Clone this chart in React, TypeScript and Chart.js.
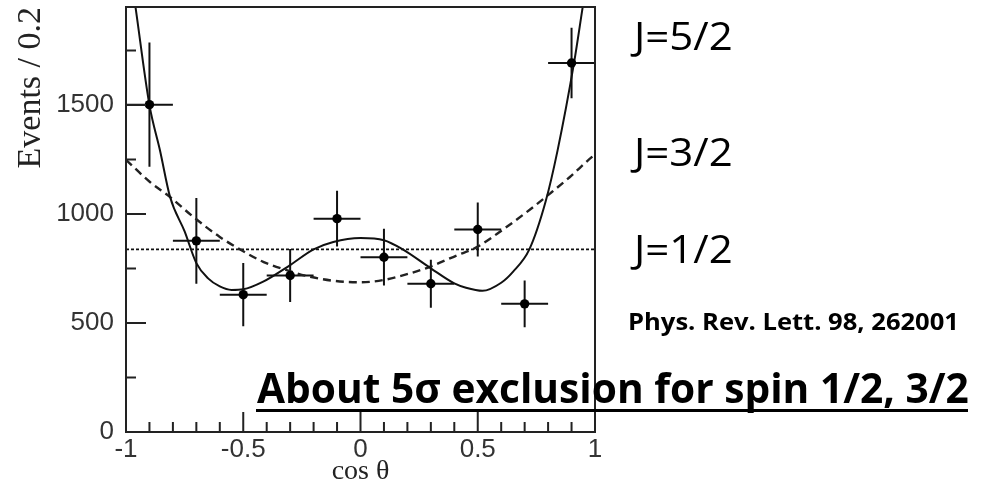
import React, { useEffect, useMemo, useRef } from 'react';
import { Chart, registerables } from 'chart.js';

Chart.register(...registerables);

// ---- data ----
const binCenters = [-0.9, -0.7, -0.5, -0.3, -0.1, 0.1, 0.3, 0.5, 0.7, 0.9];
const events = [1502, 877, 630, 718, 979, 802, 680, 929, 588, 1693];
const eventErrors = [285, 197, 145, 122, 128, 130, 110, 124, 107, 162];
const binHalfWidth = 0.1;

// J=5/2 fit (solid)
const spin52X = [-0.959, -0.9, -0.855, -0.812, -0.75, -0.7, -0.65, -0.6, -0.55, -0.5, -0.415, -0.3, -0.2, -0.116, 0, 0.1, 0.18, 0.3, 0.4, 0.45, 0.52, 0.6, 0.65, 0.72, 0.79, 0.84, 0.91, 0.947];
const spin52Y = [1946, 1500, 1292, 1078, 920, 775, 705, 668, 652, 655, 690, 766, 838, 872, 890, 880, 838, 751, 682, 662, 648, 685, 735, 838, 1060, 1290, 1690, 1946];

// J=3/2 fit (dashed)
const spin32X = [-1, -0.898, -0.812, -0.713, -0.6, -0.514, -0.415, -0.315, -0.23, -0.116, 0, 0.097, 0.211, 0.296, 0.41, 0.496, 0.609, 0.723, 0.808, 0.893, 0.986, 1];
const spin32Y = [1249, 1147, 1078, 987, 895, 838, 781, 743, 716, 694, 687, 697, 728, 758, 810, 848, 930, 1021, 1094, 1170, 1261, 1272];

// J=1/2 fit (dotted, flat)
const spin12X = [-1, 1];
const spin12Y = [838, 838];

// ticks (major ones carry labels)
const xTickValues = [-1, -0.9, -0.8, -0.7, -0.6, -0.5, -0.4, -0.3, -0.2, -0.1, 0, 0.1, 0.2, 0.3, 0.4, 0.5, 0.6, 0.7, 0.8, 0.9, 1];
const xTickLabels = ['-1', '-0.5', '0', '0.5', '1'];
const yTickValues = [0, 250, 500, 750, 1000, 1250, 1500, 1750];
const yTickLabels = ['0', '500', '1000', '1500'];

const xMin = -1;
const xMax = 1;
const yMin = 0;
const yMax = 1950;

const xTitle = 'cos θ';
const yTitle = 'Events / 0.2';

const annotationTexts = ['J=5/2', 'J=3/2', 'J=1/2', 'Phys. Rev. Lett. 98, 262001', 'About 5σ exclusion for spin 1/2, 3/2'];

// ---- layout (positions / styles) ----
const W = 982;
const H = 487;
const SLIDE_FONT = '"Open Sans", "Noto Sans", sans-serif';
const annotationLayout = [
  { bold: false, left: 630, right: 731, capTop: 22, baseline: 50 },
  { bold: false, left: 630, right: 731, capTop: 138, baseline: 166 },
  { bold: false, left: 630, right: 731, capTop: 235, baseline: 263 },
  { bold: true, left: 630, right: 955, capTop: 313, baseline: 330 },
  { bold: true, left: 257, right: 968, capTop: 373, baseline: 403 },
];

const toPoints = (xs: number[], ys: number[]) => xs.map((x, i) => ({ x, y: ys[i] }));
const fmt = (v: number) => String(Math.round(v * 10) / 10);
const xLabelFor = (v: number) => (xTickLabels.includes(fmt(v)) ? fmt(v) : '');
const yLabelFor = (v: number) => (yTickLabels.includes(String(v)) ? String(v) : '');

let measureCtx: CanvasRenderingContext2D | null = null;
function fitLabel(text: string, bold: boolean, left: number, right: number, capTop: number, baseline: number) {
  if (!measureCtx) measureCtx = document.createElement('canvas').getContext('2d');
  const ctx = measureCtx!;
  const weight = bold ? 'bold' : 'normal';
  ctx.font = `${weight} 100px ${SLIDE_FONT}`;
  const capH = ctx.measureText('H').actualBoundingBoxAscent || 71;
  const size = ((baseline - capTop) / capH) * 100;
  ctx.font = `${weight} ${size}px ${SLIDE_FONT}`;
  const m = ctx.measureText(text);
  const inkW = m.actualBoundingBoxLeft + m.actualBoundingBoxRight;
  const scaleX = (right - left) / inkW;
  const asc = m.fontBoundingBoxAscent || size * 1.07;
  const desc = m.fontBoundingBoxDescent || size * 0.3;
  return {
    size,
    weight,
    scaleX,
    originX: left + m.actualBoundingBoxLeft * scaleX,
    top: baseline - asc,
    lineHeight: asc + desc,
  };
}

const errorBarPlugin = {
  id: 'errorBars',
  beforeDatasetsDraw(chart: any) {
    const { ctx, chartArea: a, scales } = chart;
    const x = scales.x;
    const y = scales.y;
    ctx.save();
    ctx.beginPath();
    ctx.rect(a.left, a.top, a.right - a.left, a.bottom - a.top);
    ctx.clip();
    ctx.strokeStyle = '#111';
    ctx.lineWidth = 2;
    binCenters.forEach((c, i) => {
      const px = x.getPixelForValue(c);
      const py = y.getPixelForValue(events[i]);
      ctx.beginPath();
      ctx.moveTo(px, y.getPixelForValue(events[i] - eventErrors[i]));
      ctx.lineTo(px, y.getPixelForValue(events[i] + eventErrors[i]));
      ctx.moveTo(x.getPixelForValue(c - binHalfWidth), py);
      ctx.lineTo(x.getPixelForValue(c + binHalfWidth), py);
      ctx.stroke();
    });
    ctx.restore();
  },
};

const framePlugin = {
  id: 'frame',
  afterDatasetsDraw(chart: any) {
    const { ctx, chartArea: a, scales } = chart;
    const x = scales.x;
    const y = scales.y;
    ctx.save();
    ctx.strokeStyle = '#222';
    ctx.lineWidth = 2;
    ctx.strokeRect(a.left, a.top, a.right - a.left, a.bottom - a.top);
    ctx.beginPath();
    x.ticks.forEach((t: any) => {
      if (t.value <= xMin || t.value >= xMax) return;
      const len = xLabelFor(t.value) ? 20 : 10;
      const px = x.getPixelForValue(t.value);
      ctx.moveTo(px, a.bottom);
      ctx.lineTo(px, a.bottom - len);
    });
    y.ticks.forEach((t: any) => {
      if (t.value <= yMin) return;
      const len = yLabelFor(t.value) ? 20 : 10;
      const py = y.getPixelForValue(t.value);
      ctx.moveTo(a.left, py);
      ctx.lineTo(a.left + len, py);
    });
    ctx.stroke();
    ctx.restore();
  },
};

function ChartCanvas() {
  const ref = useRef<HTMLCanvasElement | null>(null);
  useEffect(() => {
    if (!ref.current) return;
    const zeroPad = (s: any) => {
      s.paddingTop = 0;
      s.paddingBottom = 0;
      s.paddingLeft = 0;
      s.paddingRight = 0;
    };
    const chart = new Chart(ref.current, {
      type: 'scatter',
      data: {
        datasets: [
          {
            label: 'data',
            data: toPoints(binCenters, events),
            showLine: false,
            pointRadius: 4.7,
            pointBackgroundColor: '#000',
            pointBorderColor: '#000',
            pointBorderWidth: 0,
          },
          {
            label: 'J=5/2',
            data: toPoints(spin52X, spin52Y),
            showLine: true,
            borderColor: '#111',
            borderWidth: 2,
            pointRadius: 0,
            cubicInterpolationMode: 'monotone',
          },
          {
            label: 'J=3/2',
            data: toPoints(spin32X, spin32Y),
            showLine: true,
            borderColor: '#222',
            borderWidth: 2.4,
            borderDash: [8, 5],
            pointRadius: 0,
            cubicInterpolationMode: 'monotone',
          },
          {
            label: 'J=1/2',
            data: toPoints(spin12X, spin12Y),
            showLine: true,
            borderColor: '#111',
            borderWidth: 1.8,
            borderDash: [3, 2],
            pointRadius: 0,
          },
        ],
      } as any,
      options: {
        responsive: false,
        animation: false,
        events: [],
        layout: { padding: { left: 0, top: 7, right: W - 595, bottom: 0 } },
        plugins: { legend: { display: false }, tooltip: { enabled: false } },
        scales: {
          x: {
            type: 'linear',
            min: xMin,
            max: xMax,
            afterBuildTicks: (s: any) => {
              s.ticks = xTickValues.map((value) => ({ value }));
            },
            afterFit: (s: any) => {
              s.height = 55;
              zeroPad(s);
            },
            grid: { display: false, drawTicks: false },
            border: { display: false },
            ticks: {
              autoSkip: false,
              maxRotation: 0,
              minRotation: 0,
              padding: 2,
              color: '#333',
              font: { family: '"Liberation Sans", Arial, sans-serif', size: 26 },
              callback: (v: any) => xLabelFor(Number(v)),
            },
            title: {
              display: true,
              text: xTitle,
              color: '#222',
              font: { family: '"Liberation Serif", "Times New Roman", serif', size: 28, lineHeight: 1 },
              padding: { top: 0, bottom: 1 },
            },
          },
          y: {
            type: 'linear',
            min: yMin,
            max: yMax,
            afterBuildTicks: (s: any) => {
              s.ticks = yTickValues.map((value) => ({ value }));
            },
            afterFit: (s: any) => {
              s.width = 126;
              zeroPad(s);
            },
            grid: { display: false, drawTicks: false },
            border: { display: false },
            ticks: {
              autoSkip: false,
              padding: 12,
              color: '#333',
              font: { family: '"Liberation Sans", Arial, sans-serif', size: 26 },
              callback: (v: any) => yLabelFor(Number(v)),
            },
            title: {
              display: true,
              text: yTitle,
              align: 'end',
              color: '#222',
              font: { family: '"Liberation Serif", "Times New Roman", serif', size: 34 },
              padding: { top: 11, bottom: 0 },
            },
          },
        },
      } as any,
      plugins: [errorBarPlugin, framePlugin],
    });
    return () => chart.destroy();
  }, []);
  return <canvas ref={ref} width={W} height={H} style={{ position: 'absolute', left: 0, top: 0 }} />;
}

export default function App() {
  const labels = useMemo(
    () =>
      annotationTexts.map((t, i) => {
        const l = annotationLayout[i];
        return { text: t, ...fitLabel(t, l.bold, l.left, l.right, l.capTop, l.baseline) };
      }),
    []
  );
  return (
    <div style={{ position: 'absolute', left: 0, top: 0, width: W, height: H, background: '#fff', overflow: 'hidden' }}>
      <ChartCanvas />
      {labels.map((l, i) => (
        <div
          key={i}
          style={{
            position: 'absolute',
            left: l.originX,
            top: l.top,
            fontFamily: SLIDE_FONT,
            fontWeight: l.weight as any,
            fontSize: `${l.size}px`,
            lineHeight: `${l.lineHeight}px`,
            whiteSpace: 'nowrap',
            color: '#000',
            transform: `scaleX(${l.scaleX})`,
            transformOrigin: '0 0',
          }}
        >
          {l.text}
        </div>
      ))}
      <div style={{ position: 'absolute', left: 256, top: 409, width: 712, height: 3, background: '#000' }} />
    </div>
  );
}
